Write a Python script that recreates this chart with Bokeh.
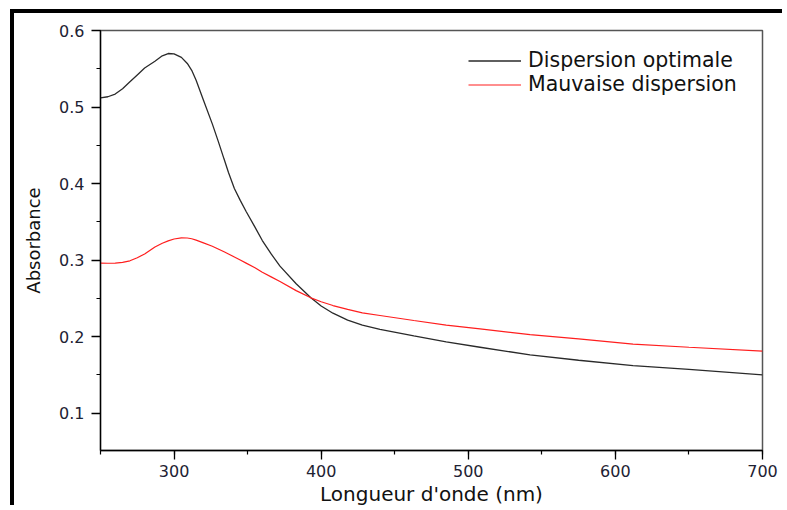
from bokeh.plotting import figure
from bokeh.models import (Range1d, SingleIntervalTicker, Legend, LegendItem,
                          PrintfTickFormatter)
from bokeh.embed import file_html
from bokeh.resources import INLINE

# ---- data ----
wavelength = [250, 255, 260, 265, 270, 275, 280, 287, 292, 296, 300, 305, 309, 312, 315,
              320, 326, 330, 334, 337, 341, 345, 349, 355, 360, 366, 372, 383, 393, 400,
              408, 418, 428, 440, 463, 485, 508, 542, 575, 612, 650, 700]
absorb_optimal = [0.512, 0.5135, 0.517, 0.524, 0.533, 0.542, 0.551, 0.560, 0.567, 0.570,
                  0.5695, 0.565, 0.557, 0.548, 0.535, 0.509, 0.478, 0.4555, 0.432, 0.4145,
                  0.3935, 0.378, 0.3635, 0.343, 0.3255, 0.308, 0.292, 0.269, 0.2506, 0.240,
                  0.2305, 0.2215, 0.215, 0.2095, 0.201, 0.193, 0.186, 0.176, 0.169, 0.162,
                  0.157, 0.150]
absorb_poor = [0.296, 0.2958, 0.296, 0.297, 0.299, 0.303, 0.308, 0.317, 0.322, 0.325,
               0.3275, 0.329, 0.3288, 0.3278, 0.326, 0.3225, 0.318, 0.3145, 0.3108, 0.308,
               0.304, 0.300, 0.296, 0.290, 0.284, 0.278, 0.272, 0.260, 0.2506, 0.2455,
               0.2405, 0.2355, 0.231, 0.2275, 0.221, 0.215, 0.210, 0.2026, 0.197, 0.190,
               0.186, 0.181]
series_labels = ["Dispersion optimale", "Mauvaise dispersion"]
x_title = "Longueur d'onde (nm)"
y_title = "Absorbance"

FONT = "DejaVu Sans"
TXT = "#1e2233"

p = figure(width=772, height=496, output_backend="svg", toolbar_location=None,
           x_range=Range1d(250, 700), y_range=Range1d(0.051, 0.6001),
           min_border_left=86, min_border_top=17, min_border_right=24, min_border_bottom=59)
p.styles = {"margin-left": "10px", "margin-top": "9px",
            "border-left": "4px solid #000", "border-top": "4px solid #000"}

p.xgrid.visible = False
p.ygrid.visible = False
p.outline_line_color = "#555555"
p.outline_line_width = 1.5
p.background_fill_color = "white"
p.border_fill_color = "white"

p.xaxis.ticker = SingleIntervalTicker(interval=100, num_minor_ticks=2)
p.yaxis.ticker = SingleIntervalTicker(interval=0.1, num_minor_ticks=2)
p.yaxis.formatter = PrintfTickFormatter(format="%.1f")

for ax in (p.xaxis, p.yaxis):
    ax.axis_line_color = "black"
    ax.axis_line_width = 1.3
    ax.major_tick_line_color = "black"
    ax.major_tick_line_width = 1.3
    ax.minor_tick_line_color = "black"
    ax.minor_tick_line_width = 1.2
    ax.major_tick_in = 0
    ax.major_tick_out = 9
    ax.minor_tick_in = 0
    ax.minor_tick_out = 4
    ax.major_label_text_font = FONT
    ax.major_label_text_font_size = "16px"
    ax.major_label_text_color = TXT
    ax.axis_label_text_font = FONT
    ax.axis_label_text_font_style = "normal"
    ax.axis_label_text_color = "#111111"

p.xaxis.major_label_standoff = 5
p.yaxis.major_label_standoff = 7
p.xaxis.axis_label = x_title
p.xaxis.axis_label_text_font_size = "20px"
p.xaxis.axis_label_standoff = 2
p.yaxis.axis_label = y_title
p.yaxis.axis_label_text_font_size = "18px"
p.yaxis.axis_label_standoff = 12

r1 = p.line(wavelength, absorb_optimal, line_color="#2a2a2a", line_width=1.3)
r2 = p.line(wavelength, absorb_poor, line_color="#ff1e1e", line_width=1.2)

legend = Legend(items=[LegendItem(label=series_labels[0], renderers=[r1]),
                       LegendItem(label=series_labels[1], renderers=[r2])],
                location=(368, 354), padding=5, margin=0, spacing=0,
                glyph_width=53, glyph_height=23, label_height=23, label_standoff=7,
                border_line_color=None, background_fill_alpha=0,
                label_text_font=FONT, label_text_font_size="20.5px",
                label_text_color="#111111")
p.add_layout(legend)

open("out.html", "w").write(file_html(p, INLINE))
